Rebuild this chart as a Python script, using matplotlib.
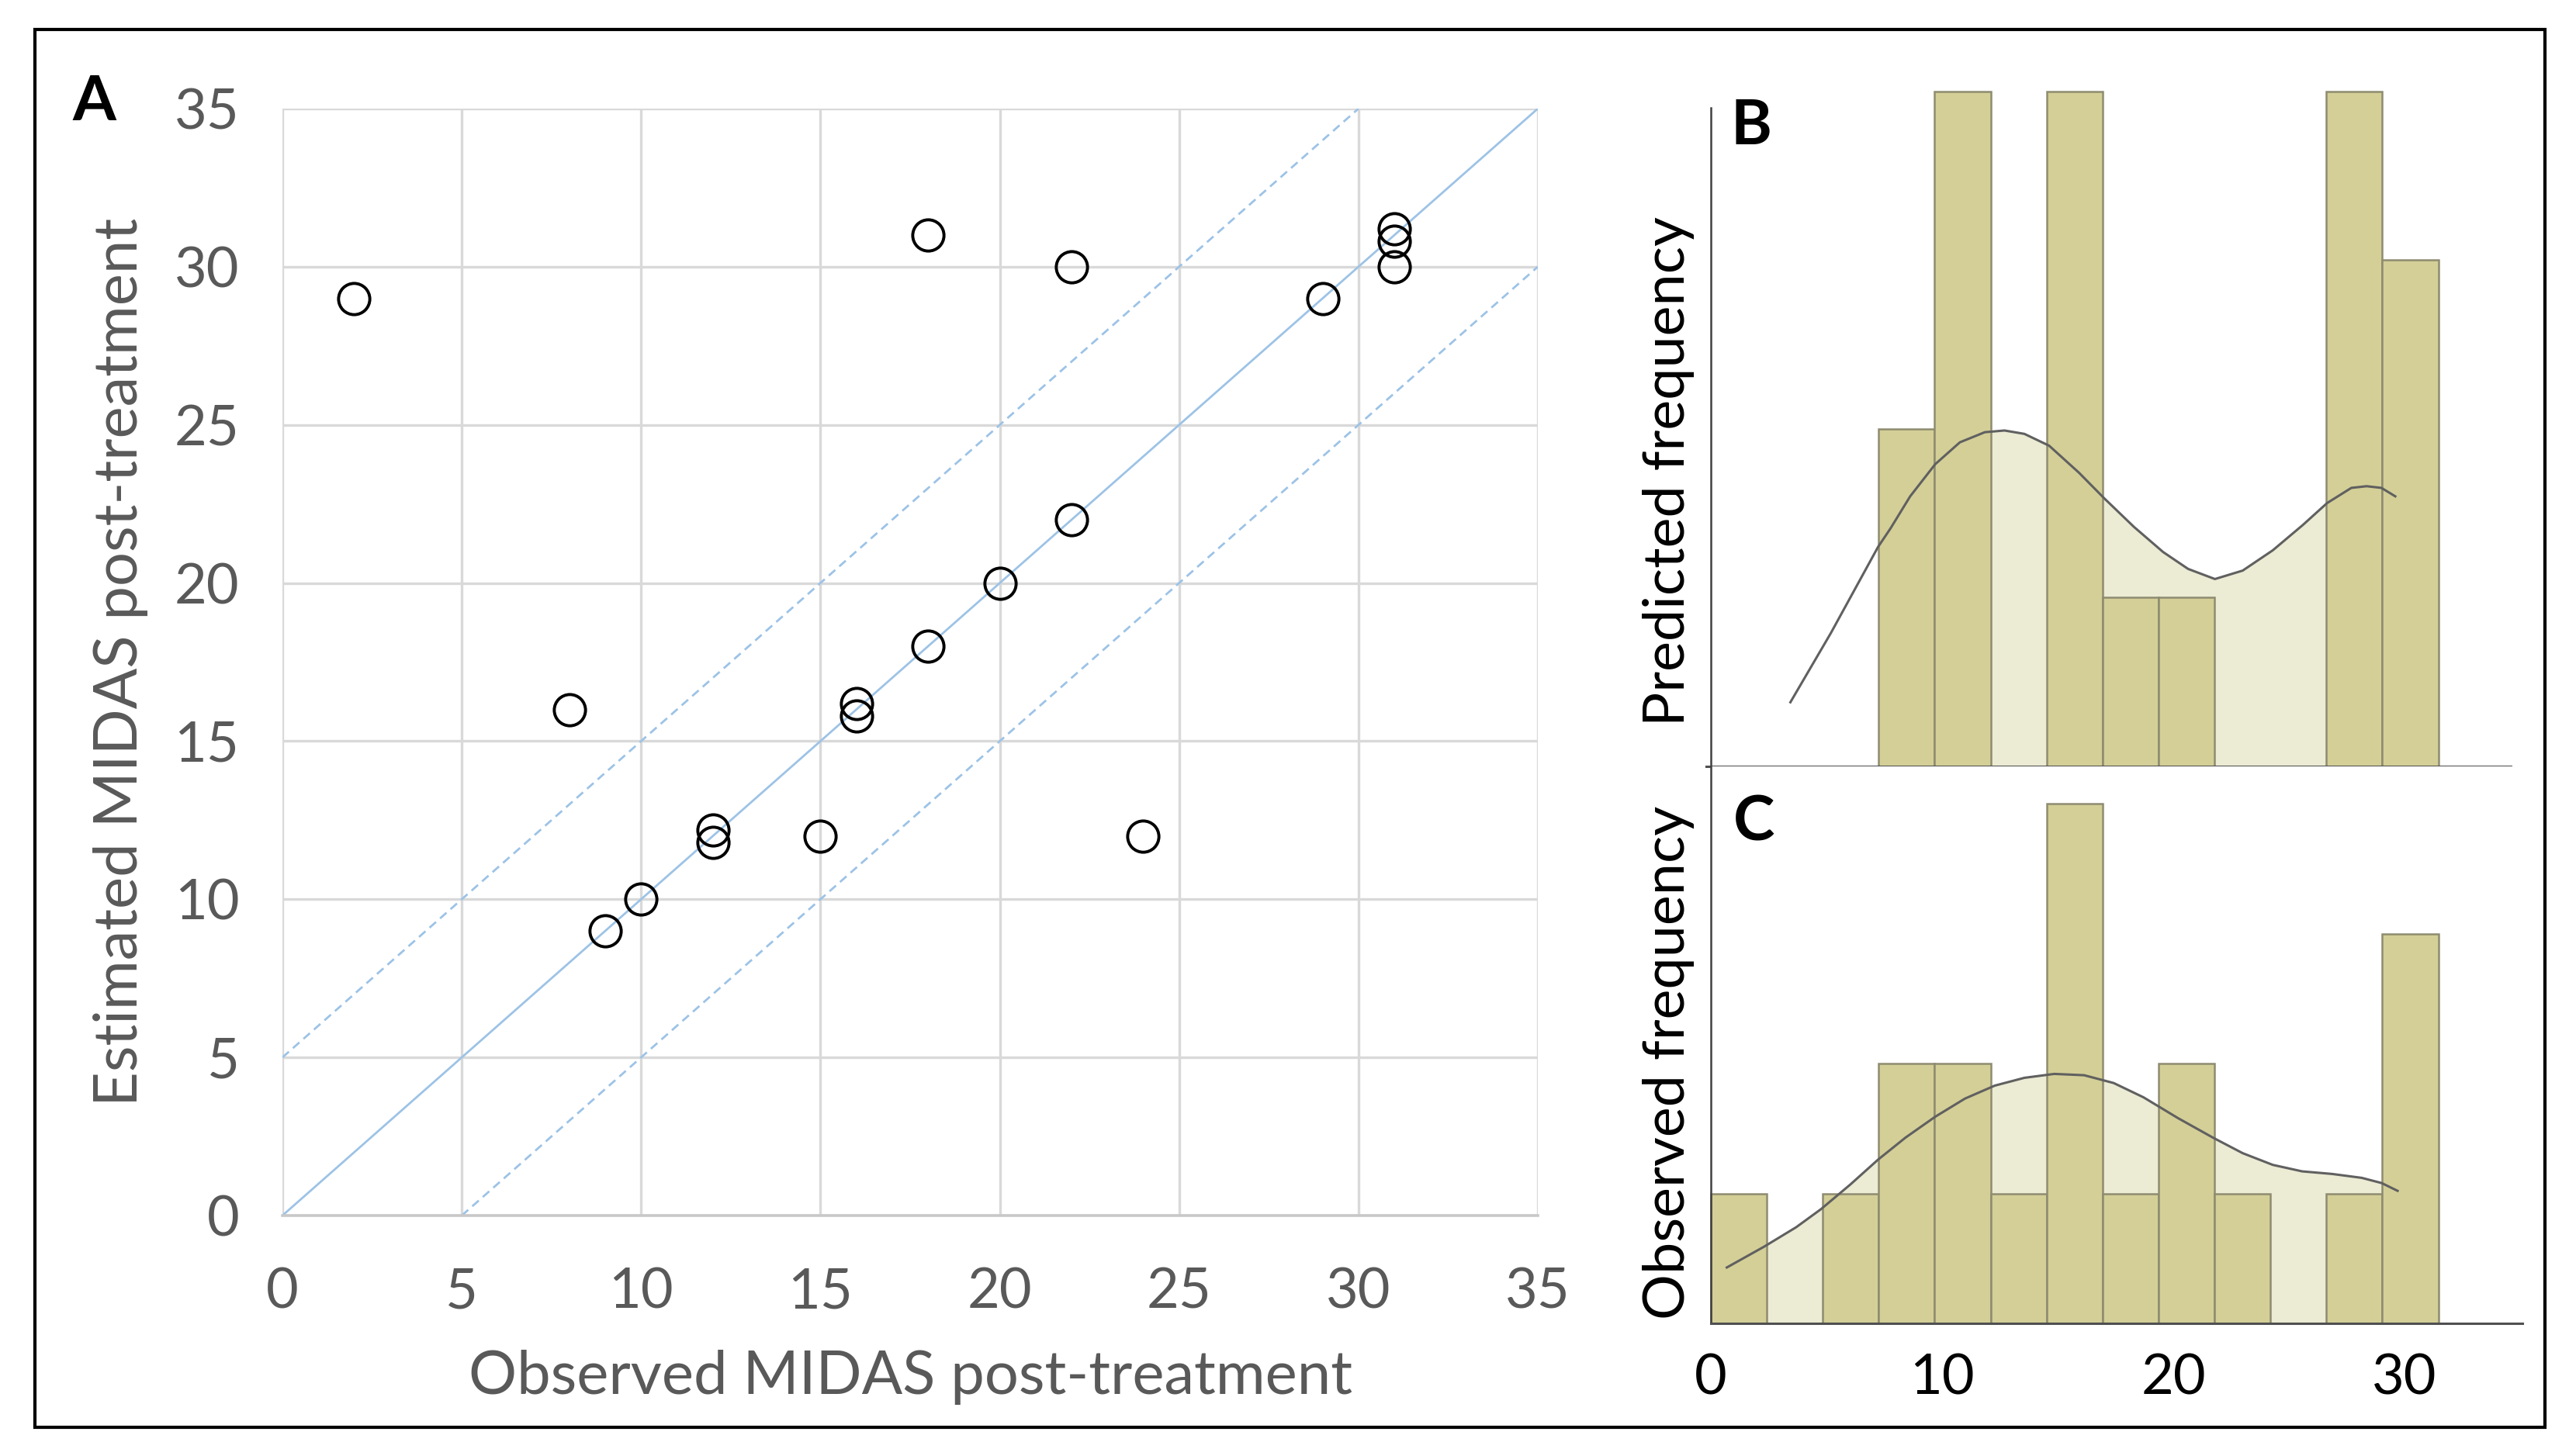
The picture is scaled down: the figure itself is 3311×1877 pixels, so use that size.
import matplotlib
matplotlib.use('Agg')
import matplotlib.pyplot as plt
from matplotlib.patches import Rectangle
import numpy as np

plt.rcParams['font.family'] = ['Lato', 'DejaVu Sans']

# panel A: observed vs estimated MIDAS post-treatment
observed = [2, 8, 9, 10, 12, 12, 15, 16, 16, 18, 18, 20, 22, 22, 24, 29, 31, 31, 31]
estimated = [29, 16, 9, 10, 12.2, 11.8, 12, 16.2, 15.8, 31, 18, 20, 30, 22, 12, 29, 31.2, 30.8, 30]
ref_x = [0, 35]
ticks_a = [0, 5, 10, 15, 20, 25, 30, 35]

# panels B and C: histograms (bin counts) with density curves
bin_width = 2.42
pred_counts = [0, 0, 0, 2, 4, 0, 4, 1, 1, 0, 0, 4, 3]
obs_counts = [1, 0, 1, 2, 2, 1, 4, 1, 2, 1, 0, 1, 3]

pred_curve_x = [3.44, 5.19, 7.23, 7.77, 8.62, 9.70, 10.77, 11.85, 12.70, 13.56, 14.63, 15.92,
                17.0, 18.29, 19.56, 20.64, 21.8, 23.0, 24.3, 25.6, 26.65, 27.7, 28.36, 29.0, 29.6]
pred_curve_y = [0.38, 0.79, 1.30, 1.41, 1.60, 1.79, 1.92, 1.98, 1.99, 1.97, 1.90, 1.74,
                1.59, 1.42, 1.27, 1.17, 1.11, 1.16, 1.28, 1.43, 1.56, 1.65, 1.66, 1.65, 1.60]
obs_curve_x = [0.69, 2.30, 3.69, 4.77, 6.04, 7.23, 8.42, 9.70, 10.99, 12.28, 13.56, 14.85,
               16.14, 17.42, 18.71, 20.2, 21.71, 23.0, 24.3, 25.57, 26.87, 28.15, 29.01, 29.7]
obs_curve_y = [0.43, 0.59, 0.74, 0.88, 1.07, 1.26, 1.43, 1.59, 1.73, 1.83, 1.89, 1.92,
               1.91, 1.85, 1.74, 1.58, 1.43, 1.31, 1.22, 1.17, 1.15, 1.12, 1.08, 1.02]
hist_ticks = [0, 10, 20, 30]

W, H = 3311, 1877
fig = plt.figure(figsize=(W / 200, H / 200), dpi=200)


def box(left, top, right, bottom):
    return [left / W, 1 - bottom / H, (right - left) / W, (bottom - top) / H]


# outer frame
fig.patches.append(Rectangle((45 / W, 1 - 1840 / H), (3280 - 45) / W, (1840 - 38) / H,
                             transform=fig.transFigure, fill=False, edgecolor='black',
                             linewidth=1.5, zorder=0))

# ---- panel A ----
ax = fig.add_axes(box(364, 140, 1982, 1567))
gray = '#595959'
blue = '#9dc3e6'
ax.plot(ref_x, ref_x, color=blue, linewidth=1.0, zorder=2)
ax.plot([0, 30], [5, 35], color=blue, linewidth=1.0, linestyle=(0, (4, 2.5)), zorder=2)
ax.plot([5, 35], [0, 30], color=blue, linewidth=1.0, linestyle=(0, (4, 2.5)), zorder=2)
ax.plot(observed, estimated, linestyle='none', marker='o', markersize=14.5,
        markerfacecolor='none', markeredgecolor='black', markeredgewidth=1.4, zorder=3)
ax.set_xlim(0, 35)
ax.set_ylim(0, 35)
ax.set_xticks(ticks_a)
ax.set_yticks(ticks_a)
ax.grid(True, color='#d9d9d9', linewidth=1.2)
ax.set_axisbelow(True)
for s in ['top', 'right', 'left']:
    ax.spines[s].set_visible(False)
ax.spines['bottom'].set_color('#c8c8c8')
ax.spines['bottom'].set_linewidth(1.3)
ax.tick_params(length=0, labelsize=26, labelcolor=gray, pad=20)
ax.tick_params(axis='x', pad=24)
ax.set_xlabel('Observed MIDAS post-treatment', fontsize=28, color=gray, labelpad=15)
ax.set_ylabel('Estimated MIDAS post-treatment', fontsize=28, color=gray, labelpad=12)
fig.text(121 / W, 1 - 132 / H, 'A', fontsize=29, fontweight='bold', ha='center', va='center')

bar_face = '#d4cf97'
bar_edge = '#8e8c70'
fill_col = '#ecebd4'
curve_col = '#606060'


def hist_panel(axh, counts, cx, cy, fill_from):
    edges = np.arange(len(counts)) * bin_width
    cx = np.array(cx)
    cy = np.array(cy)
    m = cx >= fill_from
    axh.fill_between(cx[m], 0, cy[m], color=fill_col, linewidth=0, zorder=1)
    axh.bar(edges, counts, width=bin_width, align='edge', color=bar_face,
            edgecolor=bar_edge, linewidth=0.9, zorder=2, clip_on=False)
    axh.plot(cx, cy, color=curve_col, linewidth=1.1, zorder=3)
    axh.spines['top'].set_visible(False)
    axh.spines['right'].set_visible(False)
    axh.spines['left'].set_color('#404040')
    axh.spines['left'].set_linewidth(0.9)
    axh.spines['bottom'].set_color('#505050')
    axh.spines['bottom'].set_linewidth(1.1)
    axh.set_yticks([])


# ---- panel B ----
axb = fig.add_axes(box(2205, 117.6, 3251, 988))
hist_panel(axb, pred_counts, pred_curve_x, pred_curve_y, 7.2)
axb.set_xlim(0, 35.1)
axb.set_ylim(0, 4)
axb.spines['left'].set_bounds(0, 3.9)
axb.spines['bottom'].set_bounds(-0.2, 34.6)
axb.set_xticks([])
fig.text(2150 / W, 1 - 607 / H, 'Predicted frequency', fontsize=26.5, rotation=90,
         ha='center', va='center')
fig.text(2257 / W, 1 - 163 / H, 'B', fontsize=29, fontweight='bold', ha='center', va='center')

# ---- panel C ----
axc = fig.add_axes(box(2205, 988, 3251, 1706))
hist_panel(axc, obs_counts, obs_curve_x, obs_curve_y, 0)
axc.set_xlim(0, 35.1)
axc.set_ylim(0, 4.287)
axc.set_xticks(hist_ticks)
axc.tick_params(axis='x', length=0, labelsize=26, pad=14)
fig.text(2150 / W, 1 - 1370 / H, 'Observed frequency', fontsize=26.5, rotation=90,
         ha='center', va='center')
fig.text(2261 / W, 1 - 1060 / H, 'C', fontsize=29, fontweight='bold', ha='center', va='center')

fig.savefig('out.png', dpi=200)
